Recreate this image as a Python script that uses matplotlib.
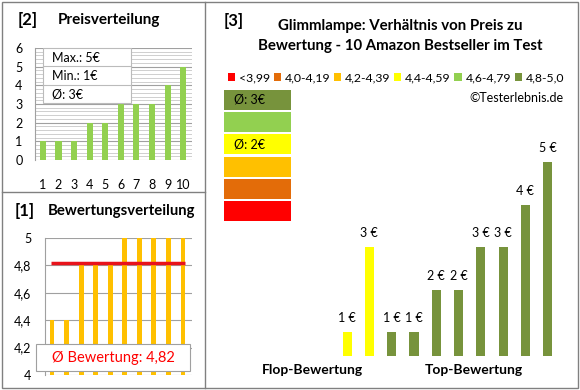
import matplotlib.pyplot as plt
from matplotlib.patches import Rectangle, Patch
from matplotlib.lines import Line2D

plt.rcParams['font.family'] = ['Lato', 'DejaVu Sans']

# data
price_rank = [1, 2, 3, 4, 5, 6, 7, 8, 9, 10]
prices_sorted = [1, 1, 1, 2, 2, 3, 3, 3, 4, 5]
ratings = [4.4, 4.4, 4.8, 4.8, 4.8, 5.0, 5.0, 5.0, 5.0, 5.0]
rating_avg = 4.82
prices_by_rating = [1, 3, 1, 1, 2, 2, 3, 3, 4, 5]
bar_colors = ['#FFFF00', '#FFFF00', '#77933C', '#77933C', '#77933C',
              '#77933C', '#77933C', '#77933C', '#77933C', '#77933C']
legend_labels = ['<3,99', '4,0-4,19', '4,2-4,39', '4,4-4,59', '4,6-4,79', '4,8-5,0']
legend_colors = ['#FF0000', '#E36C09', '#FFC000', '#FFFF00', '#92D050', '#77933C']
stack_labels = ['Ø: 3€', '', 'Ø: 2€', '', '', '']
stack_colors = ['#77933C', '#92D050', '#FFFF00', '#FFC000', '#E36C09', '#FF0000']

W, H = 580, 390
fig = plt.figure(figsize=(5.8, 3.9), dpi=100)


def fx(x):
    return x / W


def fy(y):
    return 1 - y / H


def px_axes(x0, y0, x1, y1):
    return fig.add_axes([fx(x0), fy(y1), (x1 - x0) / W, (y1 - y0) / H])


grey = '#808080'
# panel frames
fig.add_artist(Rectangle((fx(2), fy(388)), (576) / W, (386) / H, transform=fig.transFigure,
                         fill=False, edgecolor=grey, lw=1))
fig.add_artist(Line2D([fx(205), fx(205)], [fy(2), fy(388)], transform=fig.transFigure, color=grey, lw=1))
fig.add_artist(Line2D([fx(2), fx(205)], [fy(192), fy(192)], transform=fig.transFigure, color=grey, lw=1))

# ---- [2] Preisverteilung
ax2 = px_axes(35, 48, 192, 160)
ax2.bar(price_rank, prices_sorted, width=0.39, color='#92D050', zorder=3)
ax2.set_xlim(0.49, 10.57)
ax2.set_ylim(0, 6)
ax2.set_yticks(range(7))
ax2.set_yticks([i * 0.2 for i in range(31)], minor=True)
ax2.grid(axis='y', which='minor', color='#C8C8C8', lw=0.6, zorder=0)
ax2.grid(axis='y', which='major', color='#A0A0A0', lw=0.8, zorder=0)
ax2.set_xticks(price_rank)
ax2.tick_params(axis='x', length=0, pad=14, labelsize=9)
ax2.tick_params(axis='y', length=0, pad=9, labelsize=9)
ax2.tick_params(which='minor', length=0)
for s in ['top', 'right', 'bottom']:
    ax2.spines[s].set_visible(False)
ax2.spines['left'].set_color('#A0A0A0')

info = ['Max.: 5€', 'Min.: 1€', 'Ø: 3€']
fig.add_artist(Rectangle((fx(43), fy(103)), 88 / W, 55 / H, transform=fig.transFigure,
                         facecolor='white', edgecolor='#BBBBBB', lw=0.8, zorder=5))
for i, t in enumerate(info):
    yc = 57.5 + i * 18.3
    fig.text(fx(52), fy(yc), t, fontsize=9, va='center', ha='left', zorder=6)
    if i > 0:
        fig.add_artist(Line2D([fx(43), fx(131)], [fy(48 + i * 18.3)] * 2, transform=fig.transFigure,
                              color='#BBBBBB', lw=0.8, zorder=6))

fig.text(fx(18), fy(20), '[2]', fontsize=12, fontweight='bold', va='center')
fig.text(fx(58), fy(20), 'Preisverteilung', fontsize=11, fontweight='bold', va='center')

# ---- [1] Bewertungsverteilung
ax1 = px_axes(45, 238, 192, 375)
ax1.bar(price_rank, ratings, width=0.34, color='#FFC000', zorder=3)
ax1.hlines(rating_avg, 0.9, 10.15, color='#E8131B', lw=2.5, zorder=4)
ax1.set_xlim(0.52, 10.62)
ax1.set_ylim(4, 5)
yt = [4, 4.2, 4.4, 4.6, 4.8, 5]
ax1.set_yticks(yt)
ax1.set_yticklabels([('%g' % v).replace('.', ',') for v in yt])
ax1.grid(axis='y', color='#A0A0A0', lw=0.8, zorder=0)
ax1.set_xticks([])
ax1.tick_params(axis='y', length=0, pad=10, labelsize=9)
for s in ['top', 'right', 'bottom']:
    ax1.spines[s].set_visible(False)
ax1.spines['left'].set_color('#A0A0A0')
fig.add_artist(Rectangle((fx(36), fy(371)), 154 / W, 27 / H, transform=fig.transFigure,
                         facecolor='white', edgecolor='#A0A0A0', lw=0.8, zorder=5))
fig.text(fx(113), fy(358), 'Ø Bewertung: 4,82', color='#FF0000', fontsize=10.5,
         ha='center', va='center', zorder=6)
fig.text(fx(15), fy(211), '[1]', fontsize=12, fontweight='bold', va='center')
fig.text(fx(48), fy(211), 'Bewertungsverteilung', fontsize=10.7, fontweight='bold', va='center')

# ---- [3] Preis zu Bewertung
fig.text(fx(224), fy(21), '[3]', fontsize=12, fontweight='bold', va='center')
fig.text(fx(400), fy(36), 'Glimmlampe: Verhältnis von Preis zu\nBewertung - 10 Amazon Bestseller im Test',
         fontsize=10.8, fontweight='bold', ha='center', va='center', linespacing=1.5)
handles = [Patch(facecolor=c, edgecolor='none') for c in legend_colors]
fig.legend(handles, legend_labels, loc='center', bbox_to_anchor=(fx(396), fy(78)), ncol=6,
           frameon=False, fontsize=8.8, handlelength=0.6, handleheight=0.6, handletextpad=0.3,
           columnspacing=0.3, borderpad=0)
fig.text(fx(563), fy(98), '©Testerlebnis.de', fontsize=9, ha='right', va='center')

for i, (c, t) in enumerate(zip(stack_colors, stack_labels)):
    top = 90 + i * 22.2
    fig.add_artist(Rectangle((fx(224), fy(top + 20)), 67 / W, 20 / H, transform=fig.transFigure,
                             facecolor=c, edgecolor='none'))
    if t:
        fig.text(fx(234), fy(top + 10), t, fontsize=9, va='center', ha='left')

ax3 = px_axes(325, 140, 570, 356)
xs = list(range(len(prices_by_rating)))
ax3.bar(xs, prices_by_rating, width=0.41, color=bar_colors)
for x, v in zip(xs, prices_by_rating):
    ax3.annotate('%d €' % v, (x, v), xytext=(0, 10), textcoords='offset points',
                 ha='center', va='center', fontsize=9)
ax3.set_xlim(-0.99, 10.0)
ax3.set_ylim(0.435, 5.52)
ax3.axis('off')

fig.text(fx(312), fy(370), 'Flop-Bewertung', fontsize=10, fontweight='bold', ha='center', va='center')
fig.text(fx(474), fy(370), 'Top-Bewertung', fontsize=10, fontweight='bold', ha='center', va='center')

fig.savefig('out.png', dpi=100)
